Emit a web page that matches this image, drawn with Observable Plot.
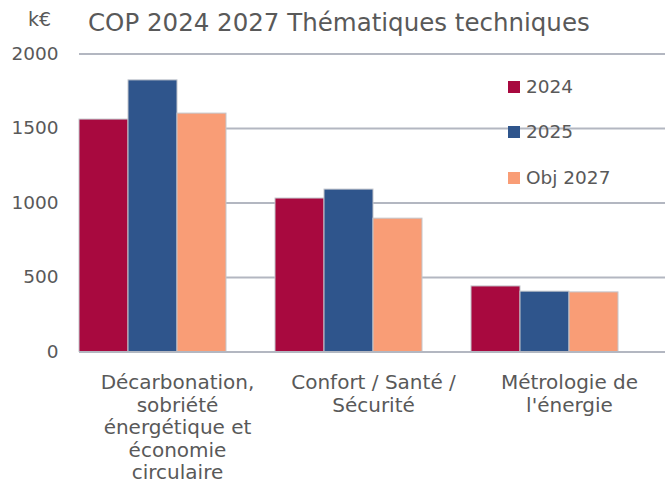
<!DOCTYPE html>
<html><head><meta charset="utf-8">
<script src="https://cdn.jsdelivr.net/npm/d3@7"></script>
<script src="https://cdn.jsdelivr.net/npm/@observablehq/plot@0.6"></script>
<style>
html,body{margin:0;padding:0;background:#fff;overflow:hidden;}
#wrap{position:relative;width:665px;height:483px;font-family:"DejaVu Sans",sans-serif;color:#595959;}
#head{position:relative;height:40px;}
#unit{position:absolute;left:28px;top:8px;font-size:19px;}
#title{position:absolute;left:88px;top:8px;font-size:24.5px;white-space:nowrap;}
#legend{position:absolute;left:508px;top:0;}
.lg{position:absolute;left:0;white-space:nowrap;font-size:18.5px;line-height:22px;}
.sw{display:inline-block;width:12px;height:12px;margin-right:6px;vertical-align:0px;}
</style></head>
<body><div id="wrap">
<div id="head"><div id="unit">k€</div><div id="title">COP 2024 2027 Thématiques techniques</div></div>
<div id="chart"></div>
<div id="legend"></div>
</div>
<script>
const categories = ["Décarbonation,\nsobriété\nénergétique et\néconomie\ncirculaire", "Confort / Santé /\nSécurité", "Métrologie de\nl'énergie"];
const series = ["2024", "2025", "Obj 2027"];
const values2024 = [1560, 1030, 440];
const values2025 = [1823, 1090, 405];
const valuesObj2027 = [1600, 895, 400];
const colors = ["#A8093F", "#2F558C", "#F99D76"];
const yTicks = [0, 500, 1000, 1500, 2000];

const table = [];
const seriesValues = [values2024, values2025, valuesObj2027];
categories.forEach((c, i) => series.forEach((s, j) => table.push({category: c, series: s, value: seriesValues[j][i]})));

const chart = Plot.plot({
  width: 665,
  height: 443,
  marginLeft: 78.5,
  marginRight: 0,
  marginTop: 13.5,
  marginBottom: 131.5,
  style: {fontFamily: "DejaVu Sans, sans-serif", color: "#595959", background: "transparent", overflow: "visible"},
  fx: {domain: categories, padding: 0, range: [78.5, 668], label: null},
  x: {domain: series, paddingInner: 0, paddingOuter: 0.5, align: 0, round: false, axis: null},
  y: {domain: [0, 2000], label: null},
  color: {domain: series, range: colors},
  marks: [
    Plot.gridY(yTicks, {stroke: "#b3b7c1", strokeOpacity: 1, strokeWidth: 2}),
    Plot.barY(table, {fx: "category", x: "series", y: "value", fill: "series", stroke: "#c3c6cc", strokeWidth: 1}),
    Plot.ruleY([0], {stroke: "#b3b7c1", strokeWidth: 2}),
    Plot.axisY(yTicks, {tickSize: 0, tickPadding: 21, fontSize: 18.5, tickFormat: d => String(d), label: null, fill: "#595959"}),
    Plot.axisFx({anchor: "bottom", tickSize: 0, tickPadding: 21, fontSize: 20, lineHeight: 1.13, label: null, fill: "#595959"})
  ]
});
document.getElementById("chart").appendChild(chart);

const legend = document.getElementById("legend");
const legendTops = [76, 121, 167];
series.forEach((s, j) => {
  const d = document.createElement("div");
  d.className = "lg";
  d.style.top = legendTops[j] + "px";
  d.innerHTML = `<span class="sw" style="background:${colors[j]}"></span>${s}`;
  legend.appendChild(d);
});
</script>
</body></html>
